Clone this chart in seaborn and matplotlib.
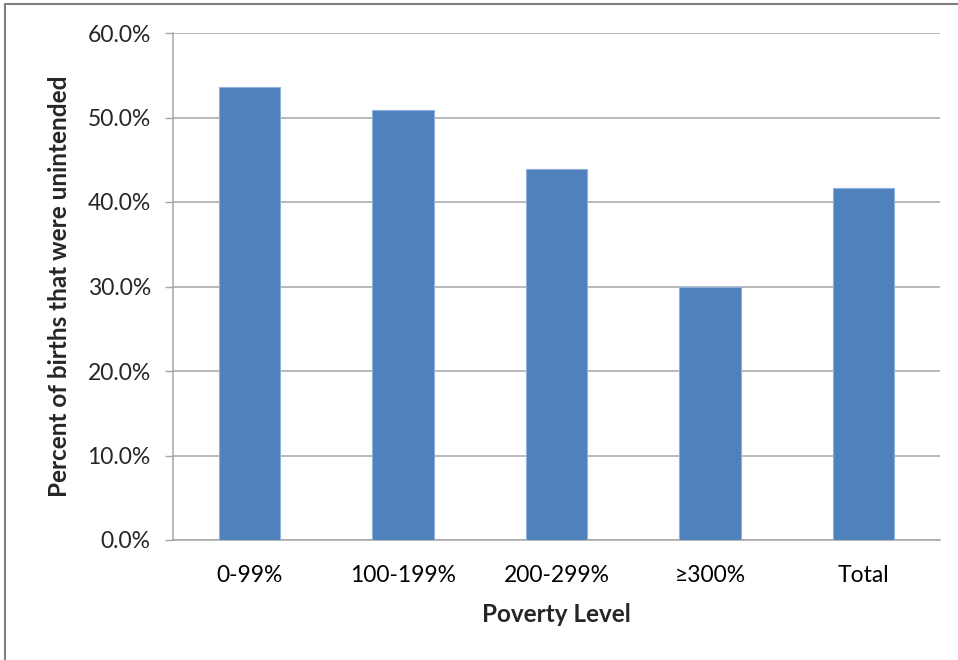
import matplotlib
matplotlib.use("Agg")
import matplotlib.pyplot as plt
from matplotlib.ticker import FuncFormatter, FixedLocator
from matplotlib.lines import Line2D
import seaborn as sns
import pandas as pd

# Share of births that were unintended, by poverty level
categories = ["0-99%", "100-199%", "200-299%", "\u2265300%", "Total"]
values = [53.6, 50.9, 43.9, 30.0, 41.7]

df = pd.DataFrame({"Poverty Level": categories, "Percent": values})

sns.set_theme(style="white")
plt.rcParams["font.family"] = ["Lato", "DejaVu Sans"]

fig = plt.figure(figsize=(9.58, 6.6), dpi=100)
ax = fig.add_axes([173 / 958, 120 / 660, (940 - 173) / 958, (540 - 33) / 660])

sns.barplot(data=df, x="Poverty Level", y="Percent", color="#4F81BD",
            width=0.4, edgecolor="#8EB1DB", linewidth=0.8, saturation=1,
            ax=ax, zorder=3)

ax.set_xlim(-0.5, len(categories) - 0.5)
ax.set_ylim(0, 60)
ax.set_yticks(range(0, 61, 10))
ax.yaxis.set_major_formatter(FuncFormatter(lambda v, _: f"{v:.1f}%"))
ax.grid(axis="y", color="#A6A6A6", linewidth=1.1, zorder=0)
ax.set_axisbelow(True)

# category boundary ticks along the bottom axis
ax.xaxis.set_minor_locator(FixedLocator([i - 0.5 for i in range(len(categories) + 1)]))
ax.tick_params(axis="x", which="major", length=0, pad=18, labelsize=16.5, colors="#000000")
ax.tick_params(axis="x", which="minor", length=7, width=1, color="#A6A6A6", direction="out")
ax.tick_params(axis="y", length=6, width=1, color="#A6A6A6", direction="out",
               labelsize=16.5, pad=10, left=True)

for side in ["top", "right"]:
    ax.spines[side].set_visible(False)
for side in ["left", "bottom"]:
    ax.spines[side].set_color("#A6A6A6")
    ax.spines[side].set_linewidth(1.1)

ax.set_xlabel("Poverty Level", fontsize=17.5, fontweight="bold", labelpad=12)
ax.set_ylabel("Percent of births that were unintended", fontsize=17.5,
              fontweight="bold", labelpad=12)

# outer frame edges
fig.add_artist(Line2D([5 / 958, 1], [1 - 4 / 660, 1 - 4 / 660], color="#808080",
                      linewidth=1.5, transform=fig.transFigure))
fig.add_artist(Line2D([5 / 958, 5 / 958], [0, 1 - 4 / 660], color="#808080",
                      linewidth=1.5, transform=fig.transFigure))

fig.savefig("out.png", dpi=100)
